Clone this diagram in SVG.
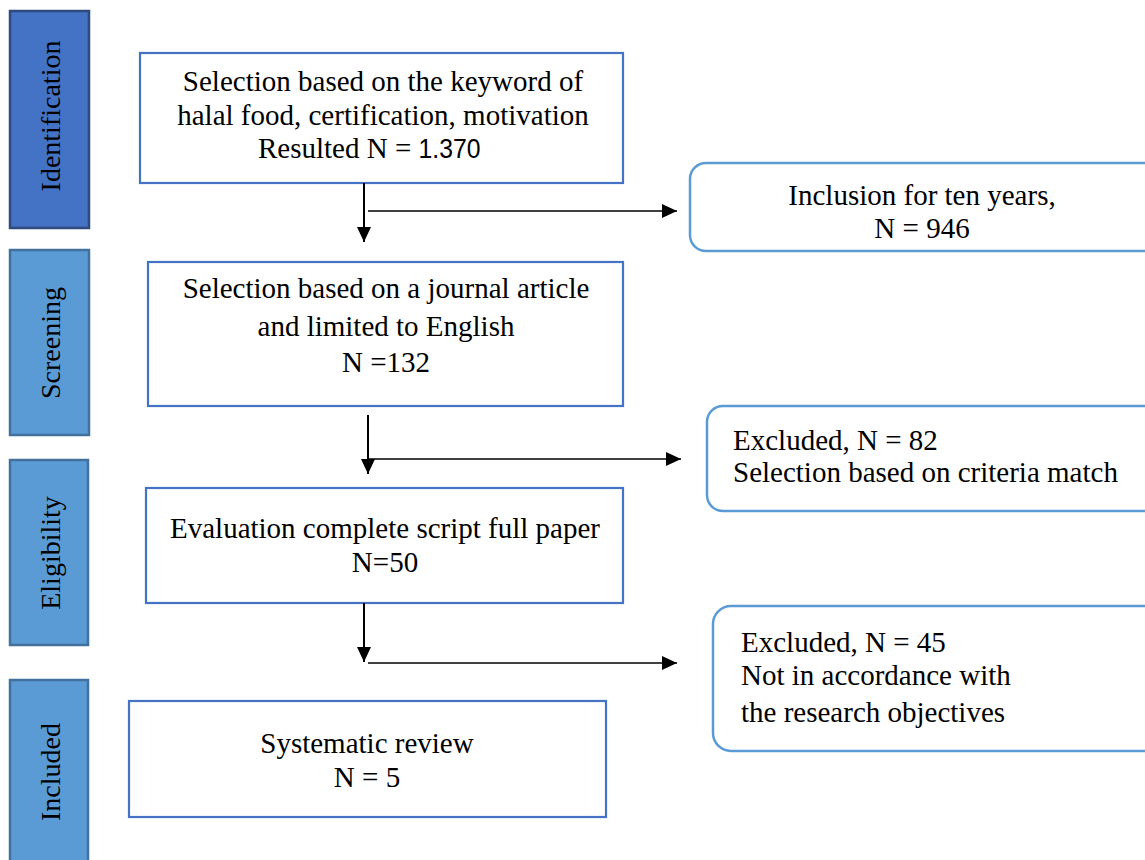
<svg xmlns="http://www.w3.org/2000/svg" width="1145" height="860" viewBox="0 0 1145 860">
<style>
.t{font-family:"Liberation Serif","Times New Roman",serif;font-size:29px;fill:#000}
.c{text-anchor:middle}
.side{fill:#5B9BD5;stroke:#41719C;stroke-width:2.5}
.sid{fill:#4472C4;stroke:#2F4A7F;stroke-width:2.5}
.st{font-family:"Liberation Serif","Times New Roman",serif;font-size:28px;fill:#000;text-anchor:middle}
.box{fill:#fff;stroke:#4472C4;stroke-width:2.2}
.rbox{fill:#fff;stroke:#5B9BD5;stroke-width:2.5}
.ln{stroke:#000;fill:none}
</style>
<defs>
<marker id="ah" markerUnits="userSpaceOnUse" markerWidth="16" markerHeight="14" refX="15" refY="7" orient="auto">
<path d="M0,0 L15,7 L0,14 Z" fill="#000"/>
</marker>
</defs>
<rect width="1145" height="860" fill="#fff"/>

<g id="phase-identification">
<rect class="sid" x="10" y="11" width="79" height="217"/>
<text class="st" transform="translate(60,116) rotate(-90)">Identification</text>
</g>
<g id="phase-screening">
<rect class="side" x="10" y="250" width="79" height="185"/>
<text class="st" transform="translate(60,343) rotate(-90)">Screening</text>
</g>
<g id="phase-eligibility">
<rect class="side" x="10" y="460" width="78" height="185"/>
<text class="st" transform="translate(60,553) rotate(-90)">Eligibility</text>
</g>
<g id="phase-included">
<rect class="side" x="10" y="680" width="78" height="190"/>
<text class="st" transform="translate(60,772) rotate(-90)">Included</text>
</g>

<g id="n1">
<rect class="box" x="140" y="53" width="483" height="130"/>
<text class="t c" x="383" y="91">Selection based on the keyword of</text>
<text class="t c" x="383" y="125">halal food, certification, motivation</text>
<text class="t" x="258" y="158">Resulted N = <tspan font-family="'Liberation Sans','Open Sans',sans-serif" font-size="27" textLength="62" lengthAdjust="spacingAndGlyphs">1.370</tspan></text>
</g>
<g id="n2">
<rect class="rbox" x="690" y="163" width="475" height="88" rx="16"/>
<text class="t c" x="922" y="205">Inclusion for ten years,</text>
<text class="t c" x="922" y="238">N = 946</text>
</g>
<g id="n3">
<rect class="box" x="148" y="262" width="475" height="144"/>
<text class="t c" x="386" y="298">Selection based on a journal article</text>
<text class="t c" x="386" y="336">and limited to English</text>
<text class="t c" x="386" y="372">N =132</text>
</g>
<g id="n4">
<rect class="rbox" x="707" y="406" width="458" height="105" rx="16"/>
<text class="t" x="733" y="450">Excluded, N = 82</text>
<text class="t" x="733" y="482">Selection based on criteria match</text>
</g>
<g id="n5">
<rect class="box" x="146" y="488" width="477" height="115"/>
<text class="t c" x="385" y="538">Evaluation complete script full paper</text>
<text class="t c" x="385" y="572">N=50</text>
</g>
<g id="n6">
<rect class="rbox" x="713" y="606" width="452" height="145" rx="18"/>
<text class="t" x="741" y="652">Excluded, N = 45</text>
<text class="t" x="741" y="685">Not in accordance with</text>
<text class="t" x="741" y="722">the research objectives</text>
</g>
<g id="n7">
<rect class="box" x="129" y="701" width="477" height="116"/>
<text class="t c" x="367" y="753">Systematic review</text>
<text class="t c" x="367" y="787">N = 5</text>
</g>

<g id="connectors">
<line class="ln" x1="364" y1="183" x2="364" y2="242" stroke-width="2" marker-end="url(#ah)"/>
<line class="ln" x1="368" y1="211" x2="677" y2="211" stroke-width="1.5" marker-end="url(#ah)"/>
<line class="ln" x1="368" y1="415" x2="368" y2="474" stroke-width="2" marker-end="url(#ah)"/>
<line class="ln" x1="368" y1="459" x2="681" y2="459" stroke-width="1.5" marker-end="url(#ah)"/>
<line class="ln" x1="364" y1="603" x2="364" y2="662" stroke-width="2" marker-end="url(#ah)"/>
<line class="ln" x1="368" y1="663" x2="677" y2="663" stroke-width="1.5" marker-end="url(#ah)"/>
</g>
</svg>
